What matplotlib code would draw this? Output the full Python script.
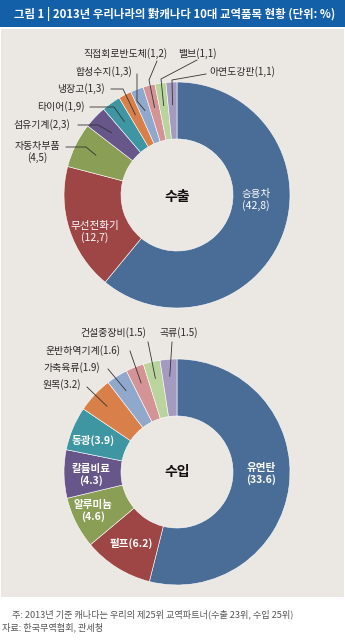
import numpy as np
import matplotlib
matplotlib.use("Agg")
import matplotlib.pyplot as plt
from matplotlib.patches import Rectangle

plt.rcParams['font.family'] = ['Noto Sans CJK KR', 'DejaVu Sans']

# ---- data ----
export_items = ['승용차', '무선전화기', '자동차부품', '섬유기계', '타이어', '냉장고',
                '합성수지', '직접회로반도체', '밸브', '아연도강판']
export_values = [42.8, 12.7, 4.5, 2.3, 1.9, 1.3, 1.3, 1.2, 1.1, 1.1]
export_labels = ['승용차\n(42,8)', '무선전화기\n(12,7)', '자동차부품\n(4,5)', '섬유기계(2,3)',
                 '타이어(1,9)', '냉장고(1,3)', '합성수지(1,3)', '직접회로반도체(1,2)',
                 '밸브(1,1)', '아연도강판(1,1)']

import_items = ['유연탄', '펄프', '알루미늄', '칼륨비료', '동광', '원목', '가축육류',
                '운반하역기계', '건설중장비', '곡류']
import_values = [33.6, 6.2, 4.6, 4.3, 3.9, 3.2, 1.9, 1.6, 1.5, 1.5]
import_labels = ['유연탄\n(33.6)', '펄프(6.2)', '알루미늄\n(4.6)', '칼륨비료\n(4.3)', '동광(3.9)',
                 '원목(3.2)', '가축육류(1.9)', '운반하역기계(1.6)', '건설중장비(1.5)', '곡류(1.5)']

colors = ['#4a6d97', '#9e4645', '#8a9e56', '#66568a', '#3e96a3', '#d9804a',
          '#90a8cc', '#d49394', '#b9d49c', '#a59bc0']

title = '그림 1 | 2013년 우리나라의 對캐나다 10대 교역품목 현황 (단위: %)'
note1 = '주: 2013년 기준 캐나다는 우리의 제25위 교역파트너(수출 23위, 수입 25위)'
note2 = '자료: 한국무역협회, 관세청'

W, H = 345, 640
fig = plt.figure(figsize=(W / 100, H / 100), dpi=100)
ax = fig.add_axes([0, 0, 1, 1])


def Y(py):
    return H - py


# background
fig.patch.set_facecolor('white')
ax.add_patch(Rectangle((0, Y(27)), W, 27, facecolor='#135fa8', edgecolor='none', zorder=0))
ax.add_patch(Rectangle((1, Y(597)), 343, 597 - 29, facecolor='#ebe7e2', edgecolor='none', zorder=0))
ax.text(14, Y(14), title, color='white', fontsize=8.2, fontweight='bold', va='center', ha='left')

R = 113
WIDTH = 57
line_kw = dict(color='#333333', lw=0.6, zorder=5)
lab_kw = dict(fontsize=7.1, color='#2a2a2a', va='center')


def donut(values, center):
    wedges, _ = ax.pie(values, colors=colors, startangle=90, counterclock=False,
                       radius=R, center=center,
                       wedgeprops=dict(width=WIDTH, edgecolor='white', linewidth=0.4))
    return wedges


def wedge_point(w, center, frac):
    mid = np.deg2rad((w.theta1 + w.theta2) / 2)
    return center[0] + R * frac * np.cos(mid), center[1] + R * frac * np.sin(mid)


# ---- export donut ----
ec = (177, Y(195))
ew = donut(export_values, ec)
ax.text(ec[0], ec[1] - 2, '수출', fontsize=10, fontweight='bold', ha='center', va='center', color='#111111')

# inner labels (white)
ax.text(256, Y(200), export_labels[0], color='white', fontsize=7.6, ha='center', va='center', linespacing=1.15)
ax.text(95, Y(232), export_labels[1], color='white', fontsize=7.6, ha='center', va='center', linespacing=1.15)

# outer labels: index -> (text x, text y, ha, leader points)
export_layout = {
    2: (37, 152, 'center', [(66, 147), (86, 147)]),
    3: (13, 125, 'left', [(78, 125), (98, 125)]),
    4: (37, 107, 'left', [(90, 107), (114, 107)]),
    5: (57, 89, 'left', [(111, 89), (123, 89)]),
    6: (75, 72, 'left', [(137, 74), (137, 101)]),
    7: (83, 54, 'left', [(157, 61), (149, 80)]),
    8: (178, 54, 'left', [(197, 60), (161, 79)]),
    9: (209, 72, 'left', [(206, 74), (172, 80)]),
}
for i, (tx, ty, ha, pts) in export_layout.items():
    ax.text(tx, Y(ty), export_labels[i], ha=ha, linespacing=1.05, **lab_kw)
    ex, ey = wedge_point(ew[i], ec, 0.8)
    xs = [p[0] for p in pts] + [ex]
    ys = [Y(p[1]) for p in pts] + [ey]
    ax.plot(xs, ys, **line_kw)

# ---- import donut ----
ic = (177, Y(472))
iw = donut(import_values, ic)
ax.text(ic[0], ic[1], '수입', fontsize=10, fontweight='bold', ha='center', va='center', color='#111111')

ax.text(261, Y(474), import_labels[0], color='white', fontsize=7.6, fontweight='bold', ha='center', va='center', linespacing=1.1)
ax.text(131, Y(543), import_labels[1], color='white', fontsize=7.6, fontweight='bold', ha='center', va='center')
ax.text(93, Y(511), import_labels[2], color='white', fontsize=7.6, fontweight='bold', ha='center', va='center', linespacing=1.1)
ax.text(91, Y(475), import_labels[3], color='white', fontsize=7.6, fontweight='bold', ha='center', va='center', linespacing=1.1)
ax.text(93, Y(440), import_labels[4], color='white', fontsize=7.6, fontweight='bold', ha='center', va='center')

import_layout = {
    5: (43, 385, 'left', [(87, 387)]),
    6: (43, 368, 'left', [(108, 369)]),
    7: (45, 351, 'left', [(130, 351)]),
    8: (80, 333, 'left', [(148, 342)]),
    9: (159, 333, 'left', [(172, 342)]),
}
for i, (tx, ty, ha, pts) in import_layout.items():
    ax.text(tx, Y(ty), import_labels[i], ha=ha, **lab_kw)
    ex, ey = wedge_point(iw[i], ic, 0.85)
    xs = [p[0] for p in pts] + [ex]
    ys = [Y(p[1]) for p in pts] + [ey]
    ax.plot(xs, ys, **line_kw)

# footnotes
ax.text(12, Y(614), note1, fontsize=6.6, color='#555555', ha='left', va='center')
ax.text(2, Y(627), note2, fontsize=6.6, color='#555555', ha='left', va='center')

ax.set_xlim(0, W)
ax.set_ylim(0, H)
ax.set_aspect('equal')
ax.axis('off')

fig.savefig('out.png', dpi=100, facecolor='white')
